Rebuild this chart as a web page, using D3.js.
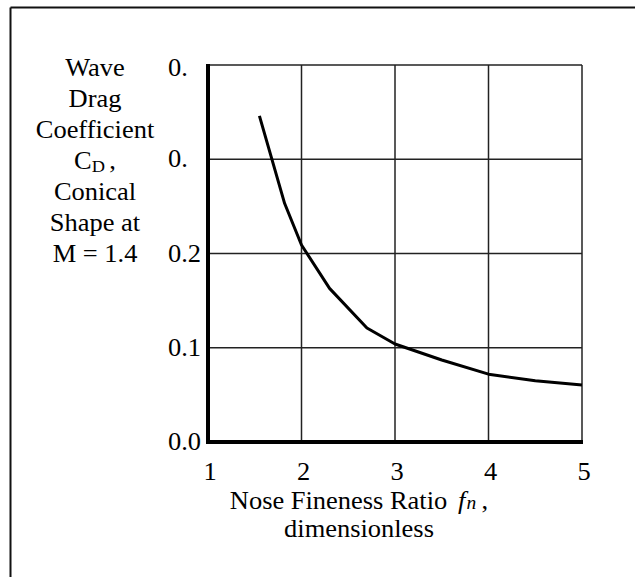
<!DOCTYPE html>
<html>
<head>
<meta charset="utf-8">
<script src="https://cdn.jsdelivr.net/npm/d3@7/dist/d3.min.js"></script>
<style>
  body { margin: 0; background: #fff; }
  svg text { font-family: "Liberation Serif", "Times New Roman", serif; fill: #000; }
</style>
</head>
<body>
<svg id="chart" width="635" height="577"></svg>
<script>
// data
const fineness = [1.55, 1.82, 2.0, 2.3, 2.7, 3.0, 3.5, 4.0, 4.5, 5.0];
const waveCd = [0.346, 0.253, 0.209, 0.163, 0.121, 0.104, 0.087, 0.072, 0.065, 0.0605];
const xTicks = [1, 2, 3, 4, 5];
const yTicks = [0, 0.1, 0.2, 0.3, 0.4];
const yTickLabels = ['0.0', '0.1', '0.2', '0.', '0.'];
const yTitle = ['Wave', 'Drag', 'Coefficient', 'C_D ,', 'Conical', 'Shape at', 'M = 1.4'];

const svg = d3.select('#chart');
const fs = 24.5;
const stretch = 1.08;   // the source text is set a little wide

const x = d3.scaleLinear().domain([1, 5]).range([208, 582]);
const y = d3.scaleLinear().domain([0, 0.4]).range([442, 65]);

// outer frame (only top and left edges show)
svg.append('line').attr('x1', 10.5).attr('x2', 635).attr('y1', 7.5).attr('y2', 7.5)
  .attr('stroke', '#111').attr('stroke-width', 2);
svg.append('line').attr('x1', 10.5).attr('x2', 10.5).attr('y1', 7.5).attr('y2', 577)
  .attr('stroke', '#111').attr('stroke-width', 2);

// grid
const grid = svg.append('g').attr('stroke', '#222').attr('stroke-width', 1.5);
grid.selectAll('line.v').data(xTicks.slice(1)).enter().append('line')
  .attr('x1', d => x(d)).attr('x2', d => x(d)).attr('y1', y(0.4)).attr('y2', y(0));
grid.selectAll('line.h').data(yTicks.slice(1)).enter().append('line')
  .attr('x1', x(1)).attr('x2', x(5)).attr('y1', d => y(d)).attr('y2', d => y(d));

// heavy axes
svg.append('line').attr('x1', x(1)).attr('x2', x(1)).attr('y1', y(0.4) - 1).attr('y2', y(0) + 2)
  .attr('stroke', '#000').attr('stroke-width', 4);
svg.append('line').attr('x1', x(1)).attr('x2', x(5) + 1).attr('y1', y(0)).attr('y2', y(0))
  .attr('stroke', '#000').attr('stroke-width', 4);

// curve
const line = d3.line().x(d => x(d[0])).y(d => y(d[1]));
svg.append('path').datum(fineness.map((f, i) => [f, waveCd[i]]))
  .attr('d', line).attr('fill', 'none').attr('stroke', '#000')
  .attr('stroke-width', 3).attr('stroke-linejoin', 'round');

// y tick labels, clipped at the bottom like the source
svg.append('clipPath').attr('id', 'yclip').append('rect')
  .attr('x', 150).attr('y', 40).attr('width', 56).attr('height', 413);
svg.append('g').attr('clip-path', 'url(#yclip)')
  .selectAll('text').data(yTicks).enter().append('text')
  .attr('transform', (d, i) => `translate(168,${y(d) + (i === yTicks.length - 1 ? 11 : 8)}) scale(${stretch},1)`)
  .attr('font-size', fs)
  .text((d, i) => yTickLabels[i]);

// x tick labels
svg.append('g').selectAll('text').data(xTicks).enter().append('text')
  .attr('transform', d => `translate(${x(d) + 2},480) scale(${stretch},1)`)
  .attr('text-anchor', 'middle').attr('font-size', fs)
  .text(d => d);

// y title
const yt = svg.append('g');
yTitle.forEach((s, i) => {
  const t = yt.append('text')
    .attr('transform', `translate(95,${76 + i * 30.95}) scale(${stretch},1)`)
    .attr('text-anchor', 'middle').attr('font-size', fs);
  if (s.startsWith('C_D')) {
    t.append('tspan').text('C');
    t.append('tspan').attr('font-size', 17).attr('dy', 3).text('D');
    t.append('tspan').attr('dy', -3).attr('dx', 4).text(',');
  } else {
    t.text(s);
  }
});

// x title
const xt = svg.append('text')
  .attr('transform', `translate(359,509) scale(${stretch},1)`)
  .attr('text-anchor', 'middle').attr('font-size', fs);
xt.append('tspan').text('Nose Fineness Ratio');
xt.append('tspan').attr('dx', 10).attr('font-style', 'italic').text('f');
xt.append('tspan').attr('dx', 1).attr('font-style', 'italic').attr('font-size', 18).text('n');
xt.append('tspan').attr('dx', 5).text(',');
svg.append('text')
  .attr('transform', `translate(359,537) scale(${stretch},1)`)
  .attr('text-anchor', 'middle').attr('font-size', fs)
  .text('dimensionless');
</script>
</body>
</html>
